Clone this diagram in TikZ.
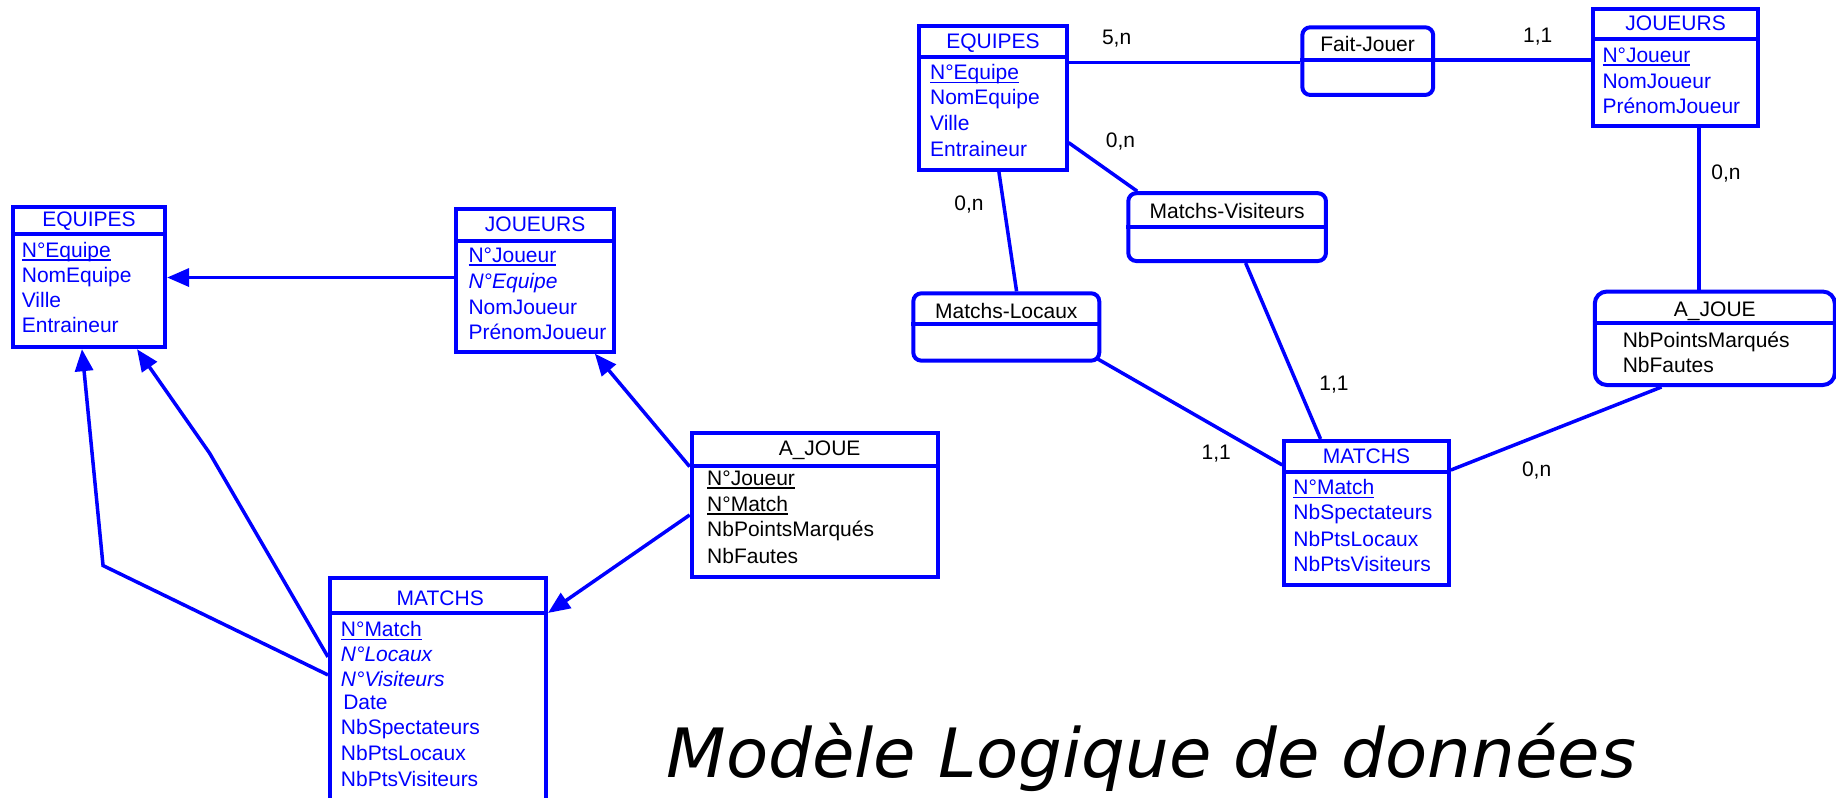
\documentclass[tikz,border=0pt]{standalone}
\usepackage{fontspec}
\setmainfont{Liberation Sans}
\newfontfamily\titlefont{DejaVu Sans}
\usetikzlibrary{arrows.meta,fit,calc}
\definecolor{erblue}{RGB}{0,0,255}
% underlined key attribute
\newcommand\keyattr[1]{\setbox0\hbox{#1}\rlap{\rule[-3.5pt]{\wd0}{1.8pt}}\box0}

\begin{document}
\begin{tikzpicture}[x=1.171pt,y=-1.171pt,
  table/.style={draw=erblue, line width=4pt, inner sep=0pt},
  assoc/.style={table, rounded corners=8pt},
  sepline/.style={draw=erblue, line width=4pt},
  link/.style={draw=erblue, line width=3.5pt},
  fk/.style={link, -{Triangle[length=22pt,width=18pt]}},
  txt/.style={font=\fontsize{21}{25}\selectfont, inner sep=0pt},
  ttitle/.style={txt, text=erblue, anchor=base},
  tattr/.style={txt, text=erblue, anchor=base west},
  atitle/.style={txt, text=black, anchor=base},
  aattr/.style={txt, text=black, anchor=base west},
  card/.style={txt, text=black, anchor=base},
]
\useasboundingbox (0,0) rectangle (1568,681);
\fill[white] (0,0) rectangle (1568,681);
\clip (0,0) rectangle (1568,681);

% ---------------- Logical model (left) ----------------
% EQUIPES
\node[table, fit={(11,176.5) (141,296.5)}] (eqL) {};
\draw[sepline] (eqL.west |- 0,200) -- (eqL.east |- 0,200);
\node[ttitle] (eqLt) at (76,193.6) {EQUIPES};
\node[tattr] (eqLa) at (18.5,219.5) {\keyattr{N°Equipe}};
\node[tattr] (eqLb) at (18.5,241) {NomEquipe};
\node[tattr] (eqLc) at (18.5,262.3) {Ville};
\node[tattr] (eqLd) at (18.5,283.7) {Entraineur};

% JOUEURS
\node[table, fit={(389.5,178.5) (524.5,300.3)}] (joL) {};
\draw[sepline] (joL.west |- 0,205.5) -- (joL.east |- 0,205.5);
\node[ttitle] (joLt) at (457,197.8) {JOUEURS};
\node[tattr] (joLa) at (400,224.3) {\keyattr{N°Joueur}};
\node[tattr] (joLb) at (400,246.5) {\itshape N°Equipe};
\node[tattr] (joLc) at (400,268.3) {NomJoueur};
\node[tattr] (joLd) at (400,290.3) {PrénomJoueur};

% A_JOUE
\node[table, fit={(590.7,369.5) (801,492.5)}] (ajL) {};
\draw[sepline] (ajL.west |- 0,398) -- (ajL.east |- 0,398);
\node[atitle] (ajLt) at (700,389.4) {A\_JOUE};
\node[aattr] (ajLa) at (603.8,414.7) {\keyattr{N°Joueur}};
\node[aattr] (ajLb) at (603.8,437) {\keyattr{N°Match}};
\node[aattr] (ajLc) at (603.8,458.6) {NbPointsMarqués};
\node[aattr] (ajLd) at (603.8,481) {NbFautes};

% MATCHS
\node[table, fit={(281.8,493.6) (466.3,700)}] (maL) {};
\draw[sepline] (maL.west |- 0,523.5) -- (maL.east |- 0,523.5);
\node[ttitle] (maLt) at (376,517.5) {MATCHS};
\node[tattr] (maLa) at (291,544) {\keyattr{N°Match}};
\node[tattr] (maLb) at (291,565.3) {\itshape N°Locaux};
\node[tattr] (maLc) at (291,586.7) {\itshape N°Visiteurs};
\node[tattr] (maLd) at (293,606.3) {Date};
\node[tattr] (maLe) at (291,627.7) {NbSpectateurs};
\node[tattr] (maLf) at (291,649.9) {NbPtsLocaux};
\node[tattr] (maLg) at (291,672.1) {NbPtsVisiteurs};

% foreign keys
\coordinate (bendLoc) at (88,483);
\coordinate (bendVis) at (179,387);
\draw[fk] (joL.west |- 0,237) -- (eqL.east |- 0,237);
\draw[fk] (maL.west |- 0,576.4) -- (bendLoc) -- (eqL.south -| 70,0);
\draw[fk] (maL.west |- 0,561) -- (bendVis) -- (eqL.south -| 117,0);
\draw[fk] (ajL.west |- 0,398.5) -- (joL.south -| 508,0);
\draw[fk] (ajL.west |- 0,439.8) -- (maL.east |- 0,523.5);

% ---------------- Conceptual model (right) ----------------
% EQUIPES
\node[table, fit={(785.1,21.9) (910.9,145.2)}] (eqR) {};
\draw[sepline] (eqR.west |- 0,49) -- (eqR.east |- 0,49);
\node[ttitle] (eqRt) at (848,41.8) {EQUIPES};
\node[tattr] (eqRa) at (794.2,68.3) {\keyattr{N°Equipe}};
\node[tattr] (eqRb) at (794.2,89.1) {NomEquipe};
\node[tattr] (eqRc) at (794.2,111.6) {Ville};
\node[tattr] (eqRd) at (794.2,133.8) {Entraineur};

% Fait-Jouer
\node[assoc, fit={(1112.2,23.3) (1224,81.1)}] (fj) {};
\draw[sepline] (fj.west |- 0,51.2) -- (fj.east |- 0,51.2);
\node[atitle] (fjt) at (1168,44.1) {Fait-Jouer};

% JOUEURS
\node[table, fit={(1360.7,8) (1501.6,107.6)}] (joR) {};
\draw[sepline] (joR.west |- 0,33.6) -- (joR.east |- 0,33.6);
\node[ttitle] (joRt) at (1431,26.2) {JOUEURS};
\node[tattr] (joRa) at (1368.4,53.5) {\keyattr{N°Joueur}};
\node[tattr] (joRb) at (1368.4,75.4) {NomJoueur};
\node[tattr] (joRc) at (1368.4,96.8) {PrénomJoueur};

% Matchs-Visiteurs
\node[assoc, fit={(963.6,165) (1132.4,222.9)}] (mv) {};
\draw[sepline] (mv.west |- 0,194.1) -- (mv.east |- 0,194.1);
\node[atitle] (mvt) at (1048,186.5) {Matchs-Visiteurs};

% Matchs-Locaux
\node[assoc, fit={(780,250.5) (938.8,308)}] (ml) {};
\draw[sepline] (ml.west |- 0,277) -- (ml.east |- 0,277);
\node[atitle] (mlt) at (859.4,271.8) {Matchs-Locaux};

% A_JOUE
\node[assoc, rounded corners=12pt, fit={(1362,249) (1567,328.8)}] (ajR) {};
\draw[sepline] (ajR.west |- 0,275.6) -- (ajR.east |- 0,275.6);
\node[atitle] (ajRt) at (1464.5,269.9) {A\_JOUE};
\node[aattr] (ajRa) at (1385.7,296.9) {NbPointsMarqués};
\node[aattr] (ajRb) at (1385.7,318.3) {NbFautes};

% MATCHS
\node[table, fit={(1096.8,376.6) (1237.4,499.6)}] (maR) {};
\draw[sepline] (maR.west |- 0,402.8) -- (maR.east |- 0,402.8);
\node[ttitle] (maRt) at (1167,395.7) {MATCHS};
\node[tattr] (maRa) at (1104.5,422.7) {\keyattr{N°Match}};
\node[tattr] (maRb) at (1104.5,444) {NbSpectateurs};
\node[tattr] (maRc) at (1104.5,466.3) {NbPtsLocaux};
\node[tattr] (maRd) at (1104.5,488.2) {NbPtsVisiteurs};

% links
\coordinate (mlCorner) at (936.5,306);
\draw[link] (eqR.east |- 0,53.5) -- (fj.west |- 0,53.5);
\draw[link] (fj.east |- 0,51.2) -- (joR.west |- 0,51.2);
\draw[link] (eqR.south -| 853.1,0) -- (ml.north -| 868.2,0);
\draw[link] (eqR.east |- 0,121.8) -- (mv.north -| 971.2,0);
\draw[link] (mv.south -| 1063.8,0) -- (maR.north -| 1127.8,0);
\draw[link] (mlCorner) -- (maR.west |- 0,397.1);
\draw[link] (joR.south -| 1451,0) -- (ajR.north -| 1451,0);
\draw[link] (ajR.south -| 1419,0) -- (maR.east |- 0,401.4);

% cardinalities
\node[card] (c1) at (953.6,38.4) {5,n};
\node[card] (c2) at (1313.3,36.1) {1,1};
\node[card] (c3) at (827.5,179.9) {0,n};
\node[card] (c4) at (956.9,125.8) {0,n};
\node[card] (c5) at (1139.2,333.6) {1,1};
\node[card] (c6) at (1038.7,392.8) {1,1};
\node[card] (c7) at (1474,153.7) {0,n};
\node[card] (c8) at (1312.3,407) {0,n};

% caption
\node[anchor=base west, inner sep=0pt, xscale=1.015,
      font=\titlefont\itshape\fontsize{68}{74}\selectfont] (caption)
      at (569,664) {Modèle Logique de données};
\end{tikzpicture}
\end{document}
